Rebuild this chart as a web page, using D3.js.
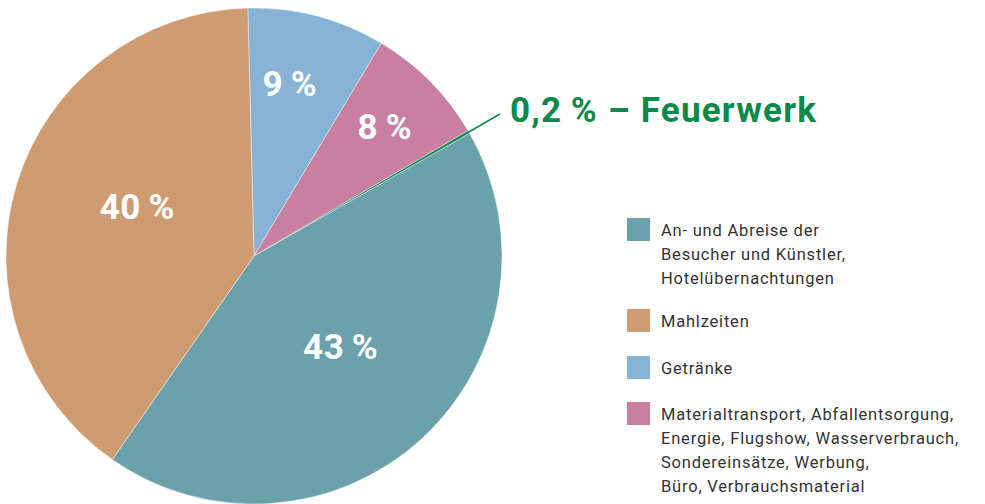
<!DOCTYPE html>
<html>
<head>
<meta charset="utf-8">
<script src="https://cdn.jsdelivr.net/npm/d3@7"></script>
<style>
	body { margin: 0; background: #fff; }
	svg { display: block; }
	text { font-family: Roboto, "DejaVu Sans", sans-serif; }
</style>
</head>
<body>
<figure id="pie" style="margin:0"></figure>
<script>
// slice order clockwise from 12 o'clock
const categories = ["Getränke", "Materialtransport", "Feuerwerk", "An- und Abreise", "Mahlzeiten"];
const shares = [9, 8, 0.2, 43, 40];
const shareLabels = ["9\u2009%", "8\u2009%", "0,2\u2009% – Feuerwerk", "43\u2009%", "40\u2009%"];
const colors = ["#87b4d6", "#c87fa2", "#0a8a4a", "#6ba1ab", "#cf9c72"];

// legend entries (order as in the picture)
const legendKeys = ["An- und Abreise", "Mahlzeiten", "Getränke", "Materialtransport"];
const legendLines = [
	["An- und Abreise der", "Besucher und Künstler,", "Hotelübernachtungen"],
	["Mahlzeiten"],
	["Getränke"],
	["Materialtransport, Abfallentsorgung,", "Energie, Flugshow, Wasserverbrauch,", "Sondereinsätze, Werbung,", "Büro, Verbrauchsmaterial"]
];

const width = 985, height = 504;
const cx = 254, cy = 256, radius = 248;
const start = -0.025;
// where each inside label sits: distance from centre, turn from mid angle (deg)
const labelRadius = [176, 184, 0, 125, 127];
const labelTurn = [-3, 0, 0, -1.5, 6.5];

const svg = d3.select("figure#pie").append("svg")
	.attr("width", width)
	.attr("height", height);

const color = d3.scaleOrdinal().domain(categories).range(colors);

const pie = d3.pie()
	.sort(null)
	.value((d) => d.value)
	.startAngle(start)
	.endAngle(start + 2 * Math.PI);

const data = categories.map((c, i) => ({
	name: c, value: shares[i], label: shareLabels[i], lr: labelRadius[i], turn: labelTurn[i]
}));
const arcs = pie(data);

const arc = d3.arc().innerRadius(0).outerRadius(radius);

const g = svg.append("g").attr("transform", `translate(${cx},${cy})`);

g.selectAll("path.slice")
	.data(arcs)
	.enter()
	.append("path")
	.attr("class", "slice")
	.attr("d", arc)
	.attr("fill", (d) => color(d.data.name))
	.attr("stroke", "#fff")
	.attr("stroke-width", 0.4);

// labels inside the big slices
g.selectAll("text.pct")
	.data(arcs.filter((d) => d.data.lr > 0))
	.enter()
	.append("text")
	.attr("class", "pct")
	.attr("transform", (d) => {
		const a = (d.startAngle + d.endAngle) / 2 + d.data.turn * Math.PI / 180;
		return `translate(${Math.sin(a) * d.data.lr},${-Math.cos(a) * d.data.lr})`;
	})
	.attr("dy", "0.36em")
	.attr("text-anchor", "middle")
	.attr("fill", "#fff")
	.attr("font-weight", "bold")
	.attr("font-size", 35)
	.attr("letter-spacing", 0.5)
	.text((d) => d.data.label);

// leader line + label for the tiny slice
const tiny = arcs.find((d) => d.data.lr === 0);
const mid = (tiny.startAngle + tiny.endAngle) / 2;
const pt = (r) => [Math.sin(mid) * r, -Math.cos(mid) * r];
const p0 = pt(radius - 1), p1 = pt(284);
g.append("line")
	.attr("x1", p0[0]).attr("y1", p0[1])
	.attr("x2", p1[0]).attr("y2", p1[1])
	.attr("stroke", color(tiny.data.name))
	.attr("stroke-width", 1.5);
g.append("text")
	.attr("x", p1[0] + 10)
	.attr("y", p1[1] + 8)
	.attr("fill", color(tiny.data.name))
	.attr("font-weight", "bold")
	.attr("font-size", 35)
	.attr("letter-spacing", 1.2)
	.text(tiny.data.label);

// legend
const rows = [218, 309, 356, 402];
const legend = svg.append("g").attr("transform", "translate(627,0)");
legendKeys.forEach((k, i) => {
	const row = legend.append("g").attr("transform", `translate(0,${rows[i]})`);
	row.append("rect")
		.attr("width", 23)
		.attr("height", 23)
		.attr("fill", color(k));
	row.selectAll("text")
		.data(legendLines[i])
		.enter()
		.append("text")
		.attr("x", 34)
		.attr("y", (d, j) => 18 + j * 24)
		.attr("fill", "#333")
		.attr("font-size", 16.5)
		.attr("letter-spacing", 0.8)
		.text((d) => d);
});
</script>
</body>
</html>
